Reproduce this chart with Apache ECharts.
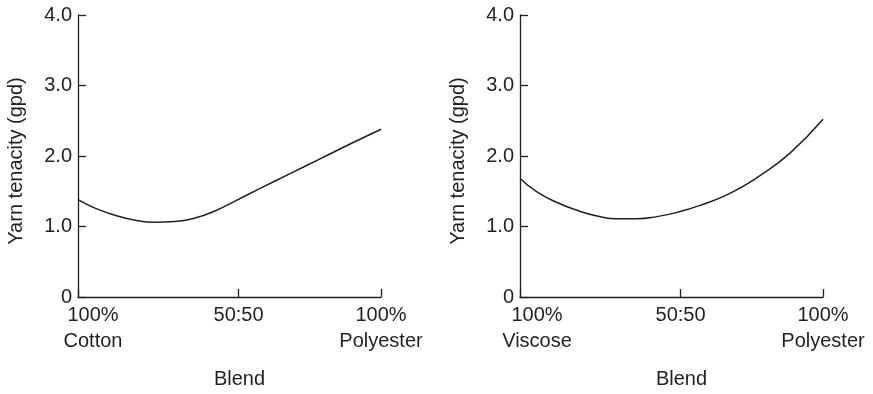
<!DOCTYPE html>
<html>
<head>
<meta charset="utf-8">
<script src="https://cdn.jsdelivr.net/npm/echarts@6/dist/echarts.min.js"></script>
<style>
html,body{margin:0;padding:0;background:#fff;}
#chart{width:873px;height:394px;}
</style>
</head>
<body>
<div id="chart"></div>
<script>
// Blend position: % polyester (0 = 100% other fibre, 100 = 100% polyester)
const cottonBlendX = [0, 5.6, 12.2, 18.8, 25.4, 32, 38.6, 45.2, 51.8, 60.1, 70, 79.9, 89.8, 100];
const cottonTenacity = [1.38, 1.26, 1.16, 1.09, 1.06, 1.07, 1.12, 1.22, 1.36, 1.54, 1.75, 1.96, 2.17, 2.38];

const viscoseBlendX = [0, 5.6, 12.2, 18.8, 25.4, 32, 38.6, 45.2, 51.8, 59.4, 69.3, 79.2, 89.1, 100];
const viscoseTenacity = [1.68, 1.49, 1.34, 1.23, 1.15, 1.11, 1.11, 1.14, 1.20, 1.30, 1.47, 1.72, 2.04, 2.52];

const blendTickValues = [0, 53, 100];
const cottonTickLabels = ['100%\nCotton', '50:50', '100%\nPolyester'];
const viscoseTickLabels = ['100%\nViscose', '50:50', '100%\nPolyester'];
const yTickValues = [0, 1, 2, 3, 4];
const yTickLabels = ['0', '1.0', '2.0', '3.0', '4.0'];

const FONT = 'Liberation Sans, Arial, Helvetica, sans-serif';
const INK = '#231f20';

function pairs(xs, ys) { return xs.map((x, i) => [x, ys[i]]); }

function xAxisFor(gridIndex, labels, firstPad) {
  return {
    type: 'value', gridIndex, min: 0, max: 100,
    name: 'Blend', nameLocation: 'middle', nameGap: 72,
    nameTextStyle: { fontFamily: FONT, fontSize: 20, color: INK, padding: [0, 0, 0, 20] },
    axisLine: { show: true, lineStyle: { color: INK, width: 1.3 } },
    axisTick: { show: true, inside: true, length: 8, customValues: blendTickValues, lineStyle: { color: INK, width: 1.3 } },
    axisLabel: {
      customValues: blendTickValues,
      margin: 5,
      fontFamily: FONT, fontSize: 20, color: INK, lineHeight: 26,
      formatter: function (v) {
        const i = blendTickValues.indexOf(v);
        const t = labels[i];
        if (i === 0) return '{f|' + t.split('\n').join('}\n{f|') + '}';
        return t;
      },
      rich: { f: { fontFamily: FONT, fontSize: 20, color: INK, lineHeight: 26, padding: [0, 0, 0, firstPad] } }
    },
    splitLine: { show: false }
  };
}

function yAxisFor(gridIndex) {
  return {
    type: 'value', gridIndex, min: 0, max: 4, interval: 1,
    name: 'Yarn tenacity (gpd)', nameLocation: 'middle', nameGap: 52, nameRotate: 90,
    nameTextStyle: { fontFamily: FONT, fontSize: 20, color: INK, padding: [0, 10, 0, 0] },
    axisLine: { show: true, lineStyle: { color: INK, width: 1.3 } },
    axisTick: { show: true, inside: true, length: 8, lineStyle: { color: INK, width: 1.3 } },
    axisLabel: {
      margin: 6, fontFamily: FONT, fontSize: 20, color: INK,
      formatter: function (v) { return yTickLabels[yTickValues.indexOf(v)]; }
    },
    splitLine: { show: false }
  };
}

const chart = echarts.init(document.getElementById('chart'), null, { renderer: 'canvas' });
chart.setOption({
  backgroundColor: '#ffffff',
  animation: false,
  grid: [
    { left: 78, right: 492, top: 15, bottom: 97 },
    { left: 520, right: 50, top: 15, bottom: 96 }
  ],
  xAxis: [xAxisFor(0, cottonTickLabels, 30), xAxisFor(1, viscoseTickLabels, 34)],
  yAxis: [yAxisFor(0), yAxisFor(1)],
  series: [
    { type: 'line', xAxisIndex: 0, yAxisIndex: 0, data: pairs(cottonBlendX, cottonTenacity), smooth: true, showSymbol: false, symbol: 'none', lineStyle: { color: INK, width: 1.5 } },
    { type: 'line', xAxisIndex: 1, yAxisIndex: 1, data: pairs(viscoseBlendX, viscoseTenacity), smooth: true, showSymbol: false, symbol: 'none', lineStyle: { color: INK, width: 1.5 } }
  ]
});
</script>
</body>
</html>
